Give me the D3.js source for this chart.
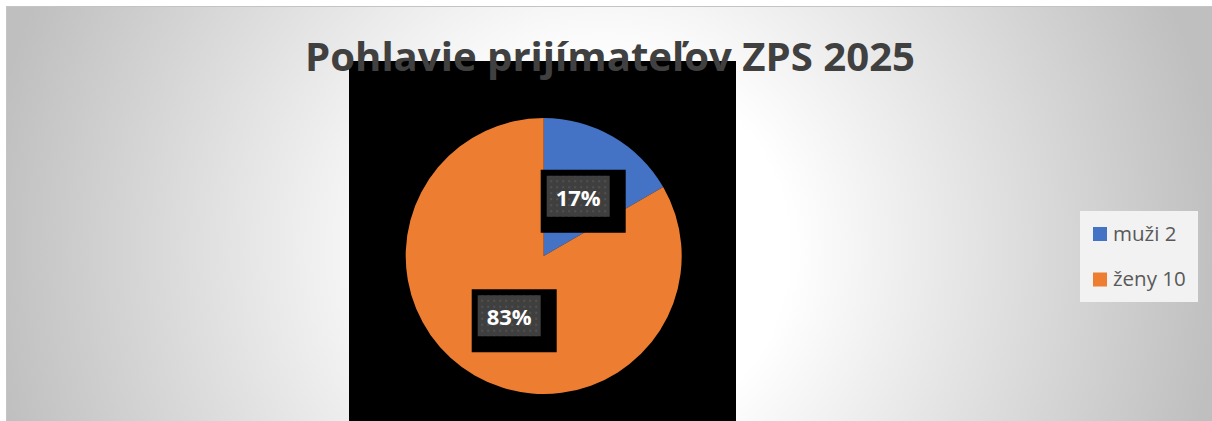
<!DOCTYPE html>
<html lang="sk">
<head>
  <meta charset="UTF-8">
  <title>Pohlavie prijímateľov ZPS 2025</title>
  <style>
    html, body { margin: 0; padding: 0; background: #fff; }
    svg { display: block; }
  </style>
</head>
<body>
  <div id="chart"></div>

  <script src="https://d3js.org/d3.v7.min.js"></script>
  <script>
    // data
    const categories = ['muži', 'ženy'];
    const values = [2, 10];
    const colors = ['#4472C4', '#ED7D31'];
    const title = 'Pohlavie prijímateľov ZPS 2025';

    const WIDTH = 1212;
    const HEIGHT = 421;
    const FONT = '"Open Sans", "DejaVu Sans", sans-serif';

    // plot area (black) and pie geometry
    const plot = {x: 349, y: 61, w: 387, h: 370};
    const pieCenter = {x: 543.7, y: 256};
    const radius = 138;

    const svg = d3.select('#chart')
      .append('svg')
      .attr('width', WIDTH)
      .attr('height', HEIGHT);

    const defs = svg.append('defs');

    // background shading: white in the middle, grey at the edges
    const bg = defs.append('radialGradient')
      .attr('id', 'bgGrad')
      .attr('gradientUnits', 'userSpaceOnUse')
      .attr('cx', 603).attr('cy', 250).attr('r', 620);
    bg.append('stop').attr('offset', 0).attr('stop-color', '#ffffff');
    bg.append('stop').attr('offset', 0.3).attr('stop-color', '#ffffff');
    bg.append('stop').attr('offset', 1).attr('stop-color', '#bfbfbf');

    // dotted fill for the data label boxes
    const dots = defs.append('pattern')
      .attr('id', 'dots')
      .attr('patternUnits', 'userSpaceOnUse')
      .attr('width', 6).attr('height', 6);
    dots.append('rect').attr('width', 6).attr('height', 6).attr('fill', '#3f3f3f');
    dots.append('circle').attr('cx', 3).attr('cy', 3).attr('r', 1).attr('fill', '#575757');

    // chart area
    svg.append('rect')
      .attr('x', 6.5).attr('y', 6.5)
      .attr('width', WIDTH).attr('height', HEIGHT)
      .attr('fill', 'url(#bgGrad)')
      .attr('stroke', '#c4c4c4')
      .attr('stroke-width', 1);

    // plot area
    svg.append('rect')
      .attr('x', plot.x).attr('y', plot.y)
      .attr('width', plot.w).attr('height', plot.h)
      .attr('fill', '#000');

    // pie
    const total = d3.sum(values);
    const pie = d3.pie().sort(null).value(d => d.value);
    const arcs = pie(categories.map((c, i) => ({name: c, value: values[i], color: colors[i]})));
    const arc = d3.arc().innerRadius(0).outerRadius(radius);

    const pieG = svg.append('g')
      .attr('transform', `translate(${pieCenter.x},${pieCenter.y})`);

    pieG.selectAll('path.slice')
      .data(arcs)
      .join('path')
      .attr('class', 'slice')
      .attr('d', arc)
      .attr('fill', d => d.data.color);

    // data labels
    const pct = d3.format('.0%');
    const boxW = 63, boxH = 41;
    const labels = pieG.selectAll('g.label')
      .data(arcs)
      .join('g')
      .attr('class', 'label')
      .attr('transform', d => {
        const [cx, cy] = arc.centroid(d);
        return `translate(${cx},${cy})`;
      });

    labels.append('rect')
      .attr('x', -boxW / 2 - 6).attr('y', -boxH / 2 - 6)
      .attr('width', boxW + 22).attr('height', boxH + 22)
      .attr('fill', '#000');
    labels.append('rect')
      .attr('x', -boxW / 2).attr('y', -boxH / 2)
      .attr('width', boxW).attr('height', boxH)
      .attr('fill', 'url(#dots)');
    labels.append('text')
      .attr('text-anchor', 'middle')
      .attr('y', 9.5)
      .attr('font-family', FONT)
      .attr('font-weight', 700)
      .attr('font-size', '22px')
      .attr('fill', '#fff')
      .text(d => pct(d.data.value / total));

    // title, on top of the plot area
    svg.append('text')
      .attr('x', 610).attr('y', 71)
      .attr('text-anchor', 'middle')
      .attr('font-family', FONT)
      .attr('font-weight', 700)
      .attr('font-size', '40px')
      .attr('fill', '#404040')
      .attr('textLength', 610)
      .attr('lengthAdjust', 'spacingAndGlyphs')
      .text(title);

    // legend
    const legend = svg.append('g').attr('transform', 'translate(1080,211)');
    legend.append('rect')
      .attr('width', 118).attr('height', 91)
      .attr('fill', '#f2f2f2');

    const items = legend.selectAll('g.item')
      .data(categories)
      .join('g')
      .attr('class', 'item')
      .attr('transform', (d, i) => `translate(13,${16 + i * 45.5})`);

    items.append('rect')
      .attr('width', 14).attr('height', 14)
      .attr('fill', (d, i) => colors[i]);
    items.append('text')
      .attr('x', 20).attr('y', 13.5)
      .attr('font-family', FONT)
      .attr('font-size', '20.5px')
      .attr('fill', '#595959')
      .text((d, i) => `${d} ${values[i]}`);
  </script>
</body>
</html>
